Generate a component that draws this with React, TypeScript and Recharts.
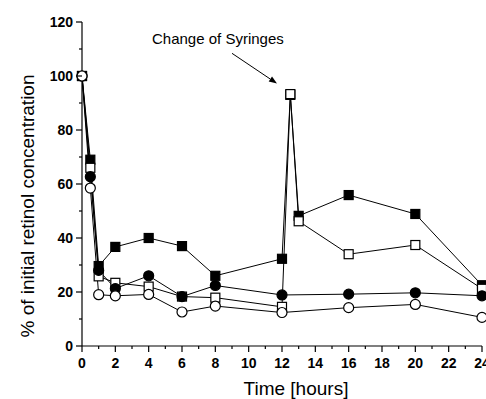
import React from 'react';
import { LineChart, Line, XAxis, YAxis, ReferenceLine, ReferenceDot } from 'recharts';

// sampling times (hours)
const squareTimes = [0, 0.5, 1, 2, 4, 6, 8, 12, 12.5, 13, 16, 20, 24];
const circleTimes = [0, 0.5, 1, 2, 4, 6, 8, 12, 16, 20, 24];

// % of initial retinol concentration
const filledSquareValues = [100, 69, 29.6, 36.7, 40, 37, 26, 32.3, 93, 48.2, 55.9, 48.9, 22.5];
const openSquareValues = [100, 66, 25.8, 23.4, 22, 18.3, 17.9, 14.5, 93.3, 46.2, 34, 37.4, 21.2];
const filledCircleValues = [100, 62.7, 28, 21.3, 26, 18.3, 22.4, 18.9, 19.2, 19.7, 18.6];
const openCircleValues = [100, 58.5, 19, 18.6, 19.1, 12.6, 14.8, 12.4, 14.2, 15.4, 10.6];

const xTicks = Array.from({ length: 25 }, (_, i) => i);
const yTicks = [0, 10, 20, 30, 40, 50, 60, 70, 80, 90, 100, 110, 120];

// annotation anchor points (data units)
const noteText = 'Change of Syringes';
const notePos = { x: 4.2, y: 114 };
const arrowFrom = { x: 9, y: 108.4 };
const arrowTo = { x: 11.7, y: 97.2 };

const FONT = '"Liberation Sans", Arial, sans-serif';

const toRows = (times: number[], values: number[]) => times.map((t, i) => ({ t, v: values[i] }));

const SquareDot = (fill: string) => (props: any) => {
  const { cx, cy, index } = props;
  if (cx == null || cy == null) return <g key={index} />;
  return <rect key={index} x={cx - 4.5} y={cy - 4.5} width={9} height={9} fill={fill} stroke="#000" strokeWidth={1.2} />;
};

const CircleDot = (fill: string) => (props: any) => {
  const { cx, cy, index } = props;
  if (cx == null || cy == null) return <g key={index} />;
  return <circle key={index} cx={cx} cy={cy} r={5} fill={fill} stroke="#000" strokeWidth={1.2} />;
};

const YTick = (props: any) => {
  const { x, y, payload } = props;
  const major = payload.value % 20 === 0;
  return (
    <g>
      <line x1={x} x2={x - (major ? 6 : 3)} y1={y} y2={y} stroke="#000" strokeWidth={1.2} />
      {major && (
        <text x={x - 9} y={y} dy="0.36em" textAnchor="end" fontSize={14} fontWeight="bold" fontFamily={FONT} fill="#000">
          {payload.value}
        </text>
      )}
    </g>
  );
};

const XTick = (props: any) => {
  const { x, y, payload } = props;
  const major = payload.value % 2 === 0;
  return (
    <g>
      <line x1={x} x2={x} y1={y} y2={y + (major ? 6 : 3)} stroke="#000" strokeWidth={1.2} />
      {major && (
        <text x={x} y={y + 22} textAnchor="middle" fontSize={14} fontWeight="bold" fontFamily={FONT} fill="#000">
          {payload.value}
        </text>
      )}
    </g>
  );
};

const Arrow = (props: any) => {
  const { x1, y1, x2, y2 } = props;
  const ang = Math.atan2(y2 - y1, x2 - x1);
  const len = 8;
  const w = 3;
  const bx = x2 - len * Math.cos(ang);
  const by = y2 - len * Math.sin(ang);
  const px = -Math.sin(ang) * w;
  const py = Math.cos(ang) * w;
  return (
    <g>
      <line x1={x1} y1={y1} x2={bx} y2={by} stroke="#000" strokeWidth={1} />
      <polygon points={`${x2},${y2} ${bx + px},${by + py} ${bx - px},${by - py}`} fill="#000" />
    </g>
  );
};

const NoteText = (props: any) => (
  <text x={props.cx} y={props.cy} dy="0.36em" fontSize={15} fontFamily={FONT} fill="#000">
    {noteText}
  </text>
);

export default function App() {
  return (
    <div style={{ position: 'absolute', left: 0, top: 0, width: 486, height: 399, background: '#fff' }}>
      <LineChart width={486} height={399} margin={{ top: 22, right: 4, bottom: 0, left: 0 }}>
        <XAxis
          type="number"
          dataKey="t"
          domain={[0, 24]}
          ticks={xTicks}
          interval={0}
          tick={<XTick />}
          tickLine={false}
          tickSize={0}
          tickMargin={0}
          height={53}
          axisLine={{ stroke: '#000', strokeWidth: 1.2 }}
          label={{
            content: () => (
              <text x={296} y={395} textAnchor="middle" fontSize={19} fontFamily={FONT} fill="#000">
                Time [hours]
              </text>
            ),
          }}
        />
        <YAxis
          type="number"
          domain={[0, 120]}
          ticks={yTicks}
          interval={0}
          tick={<YTick />}
          tickLine={false}
          tickSize={0}
          tickMargin={0}
          width={82}
          axisLine={{ stroke: '#000', strokeWidth: 1.2 }}
          label={{
            content: () => (
              <text
                x={0}
                y={0}
                transform="translate(34,206) rotate(-90)"
                textAnchor="middle"
                fontSize={19}
                fontFamily={FONT}
                fill="#000"
              >
                % of initial retinol concentration
              </text>
            ),
          }}
        />
        <Line data={toRows(squareTimes, filledSquareValues)} dataKey="v" stroke="#000" strokeWidth={1} dot={SquareDot('#000')} isAnimationActive={false} />
        <Line data={toRows(squareTimes, openSquareValues)} dataKey="v" stroke="#000" strokeWidth={1} dot={SquareDot('#fff')} isAnimationActive={false} />
        <Line data={toRows(circleTimes, filledCircleValues)} dataKey="v" stroke="#000" strokeWidth={1} dot={CircleDot('#000')} isAnimationActive={false} />
        <Line data={toRows(circleTimes, openCircleValues)} dataKey="v" stroke="#000" strokeWidth={1} dot={CircleDot('#fff')} isAnimationActive={false} />
        <ReferenceLine segment={[arrowFrom, arrowTo]} shape={<Arrow />} />
        <ReferenceDot x={notePos.x} y={notePos.y} shape={<NoteText />} />
      </LineChart>
    </div>
  );
}
